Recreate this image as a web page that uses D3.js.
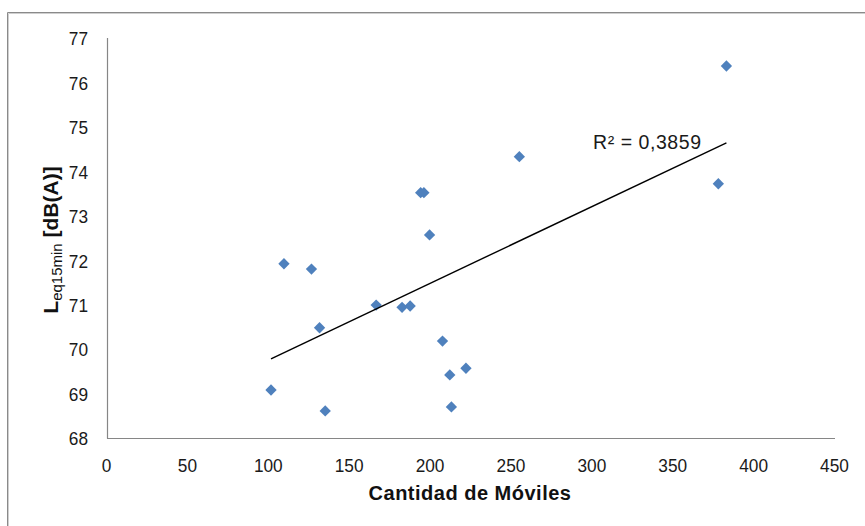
<!DOCTYPE html>
<html>
<head>
<meta charset="utf-8">
<script src="https://cdn.jsdelivr.net/npm/d3@7"></script>
<style>
  html, body { margin: 0; padding: 0; background: #ffffff; }
  svg { display: block; }
</style>
</head>
<body>
<svg id="chart" width="865" height="526"></svg>
<script>
// ---- data ----
const cantidadMoviles = [102, 110, 127, 132, 135.5, 167, 183, 188, 194.5, 196.5, 200, 208, 212.5, 213.5, 222.5, 255.5, 378.5, 383.5];
const leq15min        = [69.08, 71.92, 71.80, 70.48, 68.61, 70.99, 70.94, 70.97, 73.52, 73.52, 72.57, 70.18, 69.42, 68.70, 69.57, 74.33, 73.72, 76.37];
const xTicks = [0, 50, 100, 150, 200, 250, 300, 350, 400, 450];
const yTicks = [68, 69, 70, 71, 72, 73, 74, 75, 76, 77];
const r2Label = "R² = 0,3859";
const xTitle = "Cantidad de Móviles";

const svg = d3.select("#chart");
const W = 865, H = 526;

const tickFont = "'Liberation Sans', Arial, sans-serif";
const tickSize = 19;
const boldFont = "'Liberation Sans', Arial, sans-serif";

// outer chart border (only top/left visible in the crop)
svg.append("line").attr("x1", 7.5).attr("y1", 12.5).attr("x2", W).attr("y2", 12.5).attr("stroke", "#8a8a8a");
svg.append("line").attr("x1", 8.5).attr("y1", 13.5).attr("x2", W).attr("y2", 13.5).attr("stroke", "#cfcfcf");
svg.append("line").attr("x1", 7.5).attr("y1", 12.5).attr("x2", 7.5).attr("y2", H).attr("stroke", "#8a8a8a");
svg.append("line").attr("x1", 8.5).attr("y1", 13.5).attr("x2", 8.5).attr("y2", H).attr("stroke", "#cfcfcf");

const x = d3.scaleLinear().domain([0, 450]).range([106, 834]);
const y = d3.scaleLinear().domain([68, 77]).range([438, 38]);

const axisColor = "#868686";

// axes lines
svg.append("line").attr("x1", 107.5).attr("x2", 107.5).attr("y1", y(77)).attr("y2", y(68) + 0.5)
  .attr("stroke", axisColor).attr("stroke-width", 1.2);
svg.append("line").attr("x1", 107).attr("x2", 835).attr("y1", y(68) + 0.5).attr("y2", y(68) + 0.5)
  .attr("stroke", axisColor).attr("stroke-width", 1.2);

// condense tick labels horizontally (reference uses tall, narrow digits)
function condense(sel, digitW) {
  sel.each(function () {
    const t = d3.select(this);
    const s = t.text();
    t.attr("textLength", s.length * digitW).attr("lengthAdjust", "spacingAndGlyphs");
  });
}

// y tick labels
const yAxis = d3.axisLeft(y).tickValues(yTicks).tickSize(0).tickPadding(0).tickFormat(d3.format("d"));
const gy = svg.append("g").attr("transform", "translate(88,0)").call(yAxis);
gy.select(".domain").remove();
gy.selectAll("text").attr("font-family", tickFont).attr("font-size", tickSize).attr("fill", "#1a1a1a")
  .attr("x", 0).attr("dy", "0.36em").call(condense, 9.6);

// x tick labels
const xAxis = d3.axisBottom(x).tickValues(xTicks).tickSize(0).tickPadding(0).tickFormat(d3.format("d"));
const gx = svg.append("g").attr("transform", "translate(0,471.5)").call(xAxis);
gx.select(".domain").remove();
gx.selectAll("text").attr("font-family", tickFont).attr("font-size", tickSize).attr("fill", "#1a1a1a")
  .attr("y", 0).attr("dy", 0).call(condense, 9.6);

// linear regression trend line (least squares over the data)
const n = cantidadMoviles.length;
const mx = d3.mean(cantidadMoviles), my = d3.mean(leq15min);
let sxy = 0, sxx = 0;
for (let i = 0; i < n; i++) {
  sxy += (cantidadMoviles[i] - mx) * (leq15min[i] - my);
  sxx += (cantidadMoviles[i] - mx) ** 2;
}
const slope = sxy / sxx, intercept = my - slope * mx;
const [xmin, xmax] = d3.extent(cantidadMoviles);
const trend = [[xmin, intercept + slope * xmin], [xmax, intercept + slope * xmax]];

// points
const pts = cantidadMoviles.map((v, i) => [v, leq15min[i]]);
const diamond = d3.symbol().type(d3.symbolSquare).size(64);
svg.append("g").selectAll("path").data(pts).join("path")
  .attr("d", diamond)
  .attr("transform", d => `translate(${x(d[0])},${y(d[1])}) rotate(45)`)
  .attr("fill", "#4F81BD");

svg.append("path")
  .datum(trend)
  .attr("d", d3.line().x(d => x(d[0])).y(d => y(d[1])))
  .attr("stroke", "#000").attr("stroke-width", 1.4).attr("fill", "none");

// R² label
svg.append("text").attr("x", 593).attr("y", 149)
  .attr("font-family", tickFont).attr("font-size", 19.5)
  .attr("textLength", 108).attr("lengthAdjust", "spacing")
  .attr("fill", "#1a1a1a").text(r2Label);

// x-axis title
svg.append("text").attr("x", 470).attr("y", 500).attr("text-anchor", "middle")
  .attr("font-family", boldFont).attr("font-weight", "bold").attr("font-size", 20)
  .attr("letter-spacing", 0.5).attr("fill", "#111").text(xTitle);

// y-axis title: L with subscript eq15min, then [dB(A)]
const yt = svg.append("text")
  .attr("transform", "translate(58,240) rotate(-90)")
  .attr("text-anchor", "middle")
  .attr("font-family", boldFont).attr("fill", "#111");
yt.append("tspan").attr("font-weight", "bold").attr("font-size", 21).text("L");
yt.append("tspan").attr("font-size", 15).attr("dy", 4).text("eq15min");
yt.append("tspan").attr("font-weight", "bold").attr("font-size", 21).attr("dy", -4).text(" [dB(A)]");
</script>
</body>
</html>
